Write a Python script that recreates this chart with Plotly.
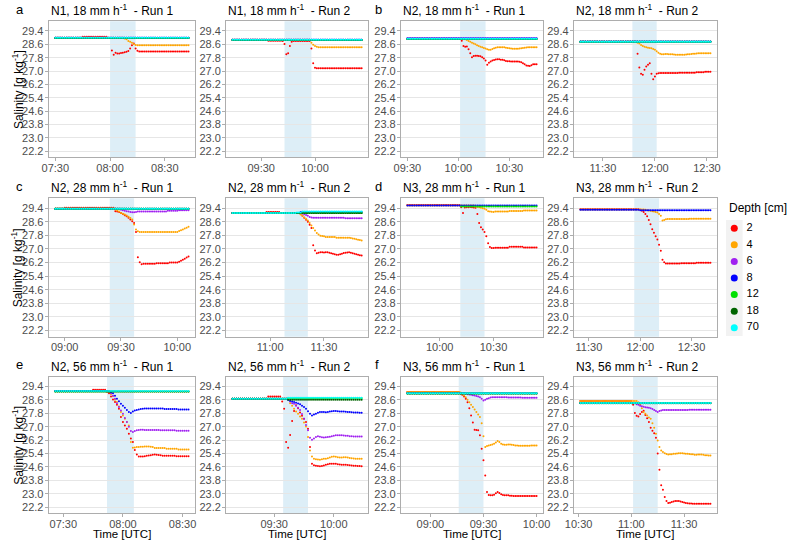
import pandas as pd
import plotly.graph_objects as go

W, H = 793, 541
BASE = "2021-06-01 "

depths = [2, 4, 6, 8, 12, 18, 70]
depth_colors = ["#FF0000", "#FFA500", "#A020F0", "#0000FF", "#00E000", "#006400", "#00FFFF"]

SP = "\u00a0 "
panel_titles = [
    f"N1, 18 mm h<sup>-1</sup>{SP}- Run 1", f"N1, 18 mm h<sup>-1</sup>{SP}- Run 2",
    f"N2, 18 mm h<sup>-1</sup>{SP}- Run 1", f"N2, 18 mm h<sup>-1</sup>{SP}- Run 2",
    f"N2, 28 mm h<sup>-1</sup>{SP}- Run 1", f"N2, 28 mm h<sup>-1</sup>{SP}- Run 2",
    f"N3, 28 mm h<sup>-1</sup>{SP}- Run 1", f"N3, 28 mm h<sup>-1</sup>{SP}- Run 2",
    f"N2, 56 mm h<sup>-1</sup>{SP}- Run 1", f"N2, 56 mm h<sup>-1</sup>{SP}- Run 2",
    f"N3, 56 mm h<sup>-1</sup>{SP}- Run 1", f"N3, 56 mm h<sup>-1</sup>{SP}- Run 2",
]
panel_letters = ["a", "", "b", "", "c", "", "d", "", "e", "", "f", ""]
panel_start = ["07:30", "09:14", "09:30", "11:17", "08:55", "10:39",
               "09:42", "11:25", "07:26", "09:09", "08:47", "10:31"]
rain_start = ["08:00", "09:43", "10:01", "11:47", "09:24", "11:08",
              "10:11:30", "11:56:30", "07:52", "09:34:30", "09:16", "11:01"]
rain_end = ["08:14", "09:58", "10:16", "12:01", "09:37", "11:21",
            "10:25", "12:11", "08:05:30", "09:47", "09:30", "11:15"]
y_ticks = [22.2, 23.0, 23.8, 24.6, 25.4, 26.2, 27.0, 27.8, 28.6, 29.4]

# salinity [g/kg], one reading per minute from panel_start
sal_a1 = {
    2: [29.0]*15 + [29.06]*14 + [None]*2 + [28.23, 27.97, 28.1, 28.05, 28.05, 28.08, 28.1, 28.12, 28.15, 28.2, 28.35, 28.55, 28.65, 28.35, 28.22] + [28.17]*28,
    4: [29.0]*38 + [28.95, 28.9, 28.8, 28.75, 28.7, 28.62, 28.56] + [28.55]*29,
    6: [28.99]*74,
    8: [29.0]*74,
    12: [28.98]*74,
    18: [28.98]*74,
    70: [29.0]*74,
}
sal_a2 = {
    2: [28.87]*20 + [28.82]*8 + [28.8, 28.62, 28.0, 28.07, 28.5, 28.76] + [28.8]*10 + [28.35, 27.47, 27.2] + [27.17]*26,
    4: [28.87]*44 + [28.7, 28.58, 28.5, 28.45, 28.43] + [28.42]*24,
    6: [28.87]*73,
    8: [28.88]*73,
    12: [28.86]*73,
    18: [28.86]*73,
    70: [28.87]*73,
}
sal_b1 = {
    2: [28.94]*32 + [28.82, 28.5, 28.45, 28.47, 28.3, 28.07, 27.83, 27.9, 27.92, 27.92, 27.9, 27.88, 27.83, 27.75, 27.63,
                     27.37, 27.5, 27.57, 27.63, 27.66, 27.69, 27.7, 27.7, 27.68, 27.67, 27.64, 27.6, 27.59, 27.58, 27.57,
                     27.57, 27.57, 27.57, 27.57, 27.56, 27.52, 27.47, 27.4, 27.33, 27.31, 27.3, 27.35, 27.4, 27.4, 27.4],
    4: [28.94]*34 + [28.9, 28.86, 28.8, 28.75, 28.7, 28.65, 28.6, 28.55, 28.5, 28.46, 28.42, 28.38, 28.35, 28.3, 28.27,
                     28.28, 28.32, 28.36, 28.4, 28.42, 28.43, 28.43, 28.42, 28.42, 28.4, 28.38, 28.36, 28.35, 28.34, 28.33,
                     28.33, 28.34, 28.35, 28.37, 28.38, 28.4, 28.41, 28.42, 28.43, 28.43, 28.42, 28.42, 28.42],
    6: [28.97]*77,
    8: [28.95]*77,
    12: [28.92]*77,
    18: [28.92]*77,
    70: [28.94]*77,
}
sal_b2 = {
    2: [28.76]*32 + [None] + [28.03, 27.21, 26.83, 26.77, 27.07, 27.27, 27.37, 27.47, 26.83, 26.5, 26.67, 26.83, 26.87, 26.88]
       + [26.88]*10 + [26.9]*10 + [26.93]*5 + [26.96]*4,
    4: [28.76]*33 + [28.7, 28.65, 28.56, 28.5, 28.46, 28.43, 28.4, 28.38, 28.37, 28.32, 28.27, 28.18, 28.1, 28.04, 28.0,
                     28.0, 28.02, 28.02, 28.01, 28.0, 28.0, 27.99, 27.98, 27.97, 27.97, 27.97, 27.97, 27.98, 27.99, 28.0,
                     28.01, 28.02, 28.03, 28.04, 28.05, 28.06, 28.07, 28.07, 28.07, 28.07, 28.07, 28.07, 28.07],
    6: [28.76]*76,
    8: [28.77]*76,
    12: [28.76]*76,
    18: [28.75]*76,
    70: [28.76]*76,
}
sal_c1 = {
    2: [29.36]*5 + [29.42]*27 + [29.22, 29.2, 29.17, 29.12, 29.05, 28.98, 28.93, 28.83, 28.73, 28.63, 28.53, 28.0, 26.51, 26.22, 26.1]
       + [26.13]*7 + [26.16]*7 + [26.2]*5 + [26.25, 26.3, 26.36, 26.42, 26.5, 26.55],
    4: [29.38]*32 + [29.32, 29.26, 29.2, 29.12, 29.07, 29.02, 28.96, 28.9, 28.82, 28.73, 28.43, 28.14, 28.04, 28.0]
       + [28.0]*20 + [28.05, 28.1, 28.14, 28.2, 28.25, 28.3],
    6: [29.36]*35 + [29.3, 29.27, 29.25, 29.22, 29.2, 29.18, 29.16, 29.16, 29.18, 29.2] + [29.21]*15 + [29.24]*6 + [29.27]*6,
    8: [29.37]*72,
    12: [29.36]*72,
    18: [29.36]*72,
    70: [29.36]*72,
}
sal_c2 = {
    2: [29.12]*19 + [29.17]*8 + [29.12]*11
       + [29.06, 28.95, 28.83, 28.72, 28.6, 28.42, 28.23, 27.21, 26.9, 26.75, 26.78, 26.81, 26.8, 26.79, 26.8, 26.81,
          26.78, 26.75, 26.71, 26.68, 26.66, 26.65, 26.68, 26.72, 26.76, 26.78, 26.79, 26.8, 26.78, 26.75, 26.72,
          26.68, 26.65, 26.62, 26.61],
    4: [29.12]*38 + [29.02, 28.95, 28.85, 28.76, 28.67, 28.53, 28.38, 28.23, 28.08, 27.94, 27.85, 27.78, 27.76, 27.74]
       + [27.7]*6 + [27.66]*8 + [27.64, 27.62, 27.6, 27.57, 27.54, 27.52, 27.5],
    6: [29.12]*39 + [29.08, 29.04, 29.0, 28.95, 28.88, 28.85, 28.83] + [28.83]*17 + [28.8]*10,
    8: [29.12]*38 + [29.17]*35,
    12: [29.12]*73,
    18: [29.12]*73,
    70: [29.12]*36 + [29.15]*3 + [29.2]*34,
}
sal_d1 = {
    2: [29.58]*30 + [29.46, 29.12, 29.44, 29.46, 29.46, 29.47, 29.46, 29.44, 29.42, 29.06, 28.53, 28.27, 28.14, 28.0,
                     27.74, 27.34, 27.11, 27.06, 27.05] + [27.07]*8 + [27.12]*8 + [27.09]*8,
    4: [29.56]*38 + [29.5, 29.48, 29.46, 29.43, 29.4, 29.36, 29.3, 29.22, 29.2, 29.19, 29.18] + [29.2]*8 + [29.23]*8 + [29.26]*8,
    8: [29.55]*73,
    12: [None]*30 + [29.49]*43,
}
sal_d2 = {
    2: [29.33]*35 + [29.3, 29.25, 29.18, 29.05, 28.93, 28.7, 28.45, 28.16, 27.95, 27.75, 27.55, 27.25, 26.89, 26.36, 26.22, 26.14]
       + [26.14]*8 + [26.16]*9 + [26.18]*9,
    4: [29.32]*38 + [29.3, 29.28, 29.26, 29.24, 29.22, 29.2, 29.17, 29.14, 29.06, 28.95, 28.67, 28.7, 28.74] + [28.76]*13 + [28.78]*13,
    8: [29.31]*35 + [29.28]*42,
}
sal_e1 = {
    2: [29.12]*19 + [29.2]*7
       + [29.08, 29.0, 28.8, 28.62, 28.47, 28.3, 28.07, 27.57, 27.27, 27.07, 26.88, 26.58, 26.3, 26.08, 25.6, 25.34, 25.22, 25.22, 25.22]
       + [25.24, 25.26, 25.28, 25.3, 25.32, 25.34, 25.33, 25.31, 25.29] + [25.27]*7 + [25.24]*7,
    4: [29.12]*27 + [29.08, 28.95, 28.82, 28.6, 28.47, 28.2, 27.87, 27.67, 27.47, 27.27, 27.07, 26.08, 25.74, 25.76, 25.78,
                     25.79, 25.8, 25.8, 25.81, 25.82, 25.82, 25.8, 25.78] + [25.72]*6 + [25.68]*6 + [25.64]*6,
    6: [29.12]*28 + [29.0, 28.85, 28.66, 28.4, 28.17, 27.97, 27.77, 27.52, 27.27, 27.0, 26.74, 26.68, 26.74, 26.78, 26.8, 26.82, 26.82]
       + [26.8]*8 + [26.78]*8 + [26.75]*7,
    8: [29.12]*27 + [29.1, 29.05, 29.0, 28.85, 28.66, 28.52, 28.37, 28.25, 28.13, 28.0, 27.87, 27.81, 27.9, 27.97, 28.0, 28.03, 28.05, 28.07]
       + [28.08]*10 + [28.06]*7 + [28.03]*6,
    12: [29.1]*68,
    18: [29.1]*68,
    70: [29.12]*68,
}
sal_e2 = {
    2: [28.66]*18 + [28.8]*7
       + [28.5, 28.07, 26.08, 25.74, 26.5, 27.33, 27.93, 28.27, 28.1, 27.85, 27.65, 27.47, 27.27, 26.88, 25.78, 24.79, 24.69]
       + [24.67, 24.65, 24.63, 24.65, 24.68, 24.72, 24.75, 24.78, 24.79, 24.79, 24.78, 24.76, 24.74, 24.73, 24.73, 24.72,
          24.71, 24.69, 24.68, 24.67, 24.66, 24.65, 24.65, 24.64],
    4: [28.66]*29 + [28.4, 28.25, 28.07, 27.9, 27.77, 27.6, 27.47, 27.25, 27.01, 26.38, 25.58, 25.22, 25.09, 25.06, 25.04, 25.03]
       + [25.05, 25.08, 25.09, 25.12, 25.16, 25.2, 25.22, 25.21, 25.18, 25.16, 25.16, 25.17, 25.18, 25.16, 25.13, 25.11,
          25.1, 25.09, 25.09, 25.09, 25.09],
    6: [28.66]*28 + [28.6, 28.5, 28.4, 28.37, 28.25, 28.12, 28.0, 27.75, 27.47, 27.1, 26.78, 26.34, 26.22, 26.3, 26.38, 26.42]
       + [26.4, 26.37, 26.35, 26.36, 26.38, 26.4, 26.43, 26.46, 26.48, 26.49, 26.49, 26.48, 26.47, 26.46, 26.45, 26.43,
          26.42, 26.41, 26.41, 26.41, 26.41, 26.41],
    8: [28.66]*28 + [28.6, 28.55, 28.5, 28.47, 28.42, 28.38, 28.33, 28.25, 28.17, 28.07, 27.92, 27.77, 27.67, 27.72, 27.77, 27.83, 27.87]
       + [27.88, 27.87, 27.86, 27.88, 27.9, 27.92, 27.93, 27.93, 27.92, 27.91, 27.9, 27.9, 27.89, 27.88, 27.87, 27.86,
          27.85, 27.84, 27.84, 27.83, 27.83],
    12: [28.66]*28 + [28.7]*38,
    18: [28.66]*28 + [28.6]*38,
    70: [28.66]*28 + [28.72]*38,
}
sal_f1 = {
    2: [29.06]*30 + [28.98, 28.9, 28.8, 28.66, 28.45, 28.1, 27.67, 27.25, 26.82, 26.8, 26.78, 26.48, 25.68, 24.99, 24.09, 23.1,
                     22.92, 22.9, 22.9, 22.94, 23.02, 23.1, 23.04, 22.96]
       + [22.92, 22.9, 22.9, 22.91, 22.88, 22.87] + [22.86]*14,
    4: [29.06]*30 + [29.03, 28.96, 28.86, 28.76, 28.6, 28.46, 28.3, 28.17, 28.02, 27.87, 27.72, 27.57, 27.21, 26.42, 25.78, 25.85,
                     25.88, 25.9, 25.94, 25.98, 26.06, 26.14, 26.08, 25.98]
       + [25.94, 25.92, 25.92, 25.94, 25.94, 25.92, 25.9, 25.88, 25.87, 25.86, 25.86, 25.86, 25.86, 25.86, 25.86, 25.86,
          25.87, 25.87, 25.88, 25.88],
    6: [29.0]*33 + [28.96, 28.94, 28.92, 28.9, 28.88, 28.86, 28.83, 28.8, 28.76, 28.66, 28.56, 28.6, 28.66, 28.7, 28.74, 28.76]
       + [28.76]*8 + [28.74]*8 + [28.72]*9,
    8: [29.0]*74,
    12: [28.98]*74,
    18: [28.98]*74,
    70: [29.0]*74,
}
sal_f2 = {
    2: [28.53]*30 + [28.3, 27.81, 27.65, 27.61, 27.75, 27.87, 27.95, 27.7, 27.5, 27.27, 26.93, 26.75, 26.6, 26.34, 25.4, 24.43,
                     23.5, 23.24, 22.8, 22.56, 22.44, 22.46, 22.5]
       + [22.54, 22.56, 22.57, 22.56, 22.53, 22.5, 22.47, 22.44, 22.43, 22.42, 22.41, 22.4, 22.4] + [22.4]*9,
    4: [28.53]*33 + [28.45, 28.3, 28.1, 27.87, 27.77, 27.67, 27.55, 27.47, 27.21, 26.93, 26.58, 26.18, 25.78, 25.58, 25.48,
                     25.42, 25.37, 25.34]
       + [25.35, 25.36, 25.38, 25.39, 25.4, 25.41, 25.42, 25.41, 25.4, 25.39, 25.38, 25.37, 25.36, 25.35, 25.33, 25.33,
          25.34, 25.34, 25.34, 25.32, 25.3, 25.29, 25.28, 25.28],
    6: [28.41]*32 + [28.33, 28.3, 28.25, 28.21, 28.18, 28.16, 28.14, 28.13, 28.1, 28.05, 28.0, 27.93, 27.87, 27.93, 27.97, 27.99, 28.0]
       + [28.0]*13 + [28.01]*13,
    8: [28.41]*75,
    12: [28.41]*75,
    18: [28.4]*75,
    70: [28.41]*75,
}
panel_data = [sal_a1, sal_a2, sal_b1, sal_b2, sal_c1, sal_c2, sal_d1, sal_d2, sal_e1, sal_e2, sal_f1, sal_f2]

# ---------------- layout geometry (pixels) ----------------
col_px = [(40.5, 190.0), (221.5, 366.5), (400.0, 545.0), (576.5, 722.5)]
row_px = [(21.3, 157.3), (198.3, 336.7), (376.7, 513.3)]
Y_RANGE = [21.83, 29.98]
FONT = "Liberation Sans, Arial, sans-serif"
AXIS_GREY = "#4D4D4D"
BORDER = "#ADADAD"
GRID = "#E6E6E6"
RAIN = "#DDEEF7"
MARKER_SIZE = 2.0

fig = go.Figure()
layout = {}
shapes = []
annotations = []

for i, data in enumerate(panel_data):
    r, c = divmod(i, 4)
    n = i + 1
    xa = "x" if n == 1 else f"x{n}"
    ya = "y" if n == 1 else f"y{n}"
    t0 = pd.Timestamp(BASE + panel_start[i])
    maxlen = max(len(v) for v in data.values())
    for d, col in zip(depths, depth_colors):
        if d not in data:
            continue
        vals = data[d]
        times = pd.date_range(t0, periods=len(vals), freq="min")
        fig.add_trace(go.Scatter(x=times, y=vals, mode="markers",
                                 marker=dict(size=MARKER_SIZE, color=col, line=dict(width=0)),
                                 xaxis=xa, yaxis=ya, showlegend=False, hoverinfo="skip"))
    t1 = t0 + pd.Timedelta(minutes=maxlen - 1)
    pad = (t1 - t0) * 0.05
    x0p, x1p = col_px[c]
    y0p, y1p = row_px[r]
    layout["xaxis" if n == 1 else f"xaxis{n}"] = dict(
        domain=[x0p / W, x1p / W], anchor=ya, type="date",
        range=[(t0 - pad).strftime("%Y-%m-%d %H:%M:%S"), (t1 + pad).strftime("%Y-%m-%d %H:%M:%S")],
        tick0=BASE + "00:00", dtick=30 * 60 * 1000, tickformat="%H:%M",
        showgrid=False, zeroline=False, showline=True, mirror=True, linecolor=BORDER, linewidth=1,
        ticks="outside", ticklen=3, tickcolor=BORDER, tickwidth=1, ticklabelstandoff=-3,
        tickfont=dict(family=FONT, size=11, color=AXIS_GREY))
    layout["yaxis" if n == 1 else f"yaxis{n}"] = dict(
        domain=[1 - y1p / H, 1 - y0p / H], anchor=xa, range=Y_RANGE,
        tickmode="array", tickvals=y_ticks, ticktext=[f"{v:.1f}" for v in y_ticks],
        showgrid=True, gridcolor=GRID, gridwidth=1, zeroline=False,
        showline=True, mirror=True, linecolor=BORDER, linewidth=1,
        ticks="outside", ticklen=3, tickcolor=BORDER, tickwidth=1, ticklabelstandoff=-1,
        tickfont=dict(family=FONT, size=11, color=AXIS_GREY))
    shapes.append(dict(type="rect", xref=xa, yref=f"{ya} domain",
                       x0=BASE + rain_start[i], x1=BASE + rain_end[i], y0=0, y1=1,
                       fillcolor=RAIN, line=dict(width=0), layer="below"))
    annotations.append(dict(text=panel_titles[i], xref="paper", yref="paper",
                            x=x0p / W, y=1 - (y0p - 11) / H, xanchor="left", yanchor="middle",
                            showarrow=False, font=dict(family=FONT, size=12, color="#000000")))
    if panel_letters[i]:
        lx = 5 if c == 0 else 371
        annotations.append(dict(text=panel_letters[i], xref="paper", yref="paper",
                                x=lx / W, y=1 - (y0p - 12) / H, xanchor="left", yanchor="middle",
                                showarrow=False, font=dict(family=FONT, size=13, color="#000000")))
    if c == 0:
        annotations.append(dict(text="Salinity [g kg<sup>-1</sup>]", xref="paper", yref="paper",
                                x=9 / W, y=1 - (y0p + y1p) / 2 / H, textangle=-90,
                                xanchor="center", yanchor="middle", showarrow=False,
                                font=dict(family=FONT, size=12, color="#000000")))
    if r == 2:
        annotations.append(dict(text="Time [UTC]", xref="paper", yref="paper",
                                x=(x0p + x1p) / 2 / W, y=1 - 533.5 / H,
                                xanchor="center", yanchor="middle", showarrow=False,
                                font=dict(family=FONT, size=11.5, color="#000000")))

# ---------------- legend drawn on its own small axis ----------------
leg_left, leg_right = 731.7, 793.0
leg_top, leg_bottom = 220.0, 336.0
layout["xaxis13"] = dict(domain=[leg_left / W, leg_right / W], range=[0, leg_right - leg_left],
                         visible=False, fixedrange=True, anchor="y13")
layout["yaxis13"] = dict(domain=[1 - leg_bottom / H, 1 - leg_top / H], range=[len(depths) - 0.5, -0.5],
                         visible=False, fixedrange=True, anchor="x13")
leg_rows = list(range(len(depths)))
shapes.append(dict(type="rect", xref="x13", yref="y13", x0=0, x1=17, y0=-0.5, y1=len(depths) - 0.5,
                   fillcolor="#F2F2F2", line=dict(width=0), layer="below"))
fig.add_trace(go.Scatter(x=[8.5] * len(depths), y=leg_rows, mode="markers",
                         marker=dict(size=7, color=depth_colors, line=dict(width=0)),
                         xaxis="x13", yaxis="y13", showlegend=False, hoverinfo="skip"))
fig.add_trace(go.Scatter(x=[21] * len(depths), y=leg_rows, mode="text", text=[str(d) for d in depths],
                         textposition="middle right", textfont=dict(family=FONT, size=11, color="#000000"),
                         xaxis="x13", yaxis="y13", showlegend=False, hoverinfo="skip"))
annotations.append(dict(text="Depth [cm]", xref="paper", yref="paper", x=733 / W, y=1 - 208 / H,
                        xanchor="left", yanchor="middle", showarrow=False,
                        font=dict(family=FONT, size=12, color="#000000")))

fig.update_layout(
    width=W, height=H, margin=dict(l=0, r=0, t=0, b=0),
    paper_bgcolor="white", plot_bgcolor="white", showlegend=False,
    shapes=shapes, annotations=annotations,
    **layout,
)
fig.write_html("out.html")
